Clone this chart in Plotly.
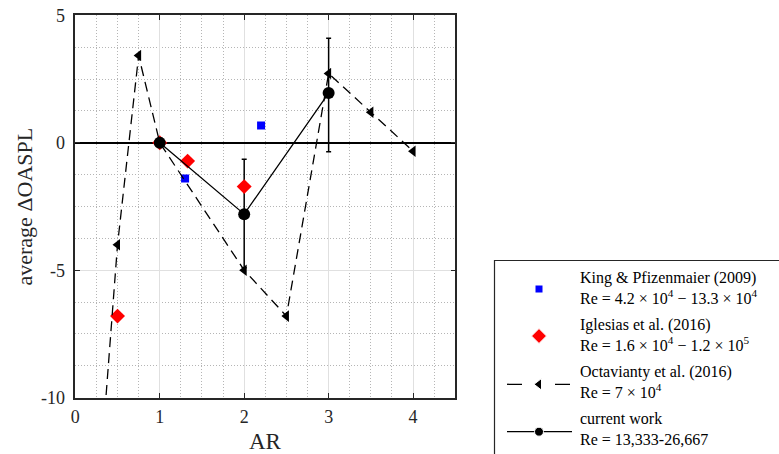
import plotly.graph_objects as go

# ---------------- data ----------------
king_ar = [1.3, 2.2]
king_val = [-1.4, 0.68]

igl_ar = [0.5, 1.0, 1.33, 2.0]
igl_val = [-6.8, 0.0, -0.72, -1.72]

oct_ar = [0.25, 0.5, 0.75, 1.0, 2.0, 2.5, 3.0, 3.5, 4.0]
oct_val = [-14.9, -4.0, 3.42, 0.0, -5.0, -6.8, 2.72, 1.2, -0.33]

cur_ar = [1.0, 2.0, 3.0]
cur_val = [0.0, -2.8, 1.95]
cur_err_plus = [0.0, 2.15, 2.15]
cur_err_minus = [0.0, 2.1, 2.3]

x_ticks = [0, 1, 2, 3, 4]
x_ticklabels = ["0", "1", "2", "3", "4"]
y_ticks = [-10, -5, 0, 5]
y_ticklabels = ["-10", "-5", "0", "5"]

legend_names = [
    ("King &amp; Pfizenmaier (2009)", "Re = 4.2 × 10<sup>4</sup> − 13.3 × 10<sup>4</sup>"),
    ("Iglesias et al. (2016)", "Re = 1.6 × 10<sup>4</sup> − 1.2 × 10<sup>5</sup>"),
    ("Octavianty et al. (2016)", "Re = 7 × 10<sup>4</sup>"),
    ("current work", "Re = 13,333-26,667"),
]

# ---------------- layout geometry (pixels) ----------------
W, H = 779, 454
PL, PR, PT, PB = 75.3, 455.3, 15.3, 397.7
FONT = "Liberation Serif, Times New Roman, serif"
DARK = "#262626"

def px(x):
    return x / W

def py(y):
    return (H - y) / H

fig = go.Figure()

# error bars of current work (drawn first, underneath)
fig.add_trace(go.Scatter(
    x=cur_ar, y=cur_val, mode="markers",
    marker=dict(size=1, color="rgba(0,0,0,0)"),
    error_y=dict(type="data", symmetric=False, array=cur_err_plus,
                 arrayminus=cur_err_minus, color="black", thickness=1.5, width=2.5),
    showlegend=False, hoverinfo="skip"))

fig.add_trace(go.Scatter(
    x=king_ar, y=king_val, mode="markers",
    marker=dict(symbol="square", size=8, color="#0000ff"),
    showlegend=False))

fig.add_trace(go.Scatter(
    x=igl_ar, y=igl_val, mode="markers",
    marker=dict(symbol="diamond", size=11.5, color="#ff0000"),
    showlegend=False))

fig.add_trace(go.Scatter(
    x=oct_ar, y=oct_val, mode="lines+markers",
    line=dict(color="black", width=1.3, dash="10px,6px"),
    marker=dict(symbol="triangle-left", size=10, color="black"),
    showlegend=False))

fig.add_trace(go.Scatter(
    x=cur_ar, y=cur_val, mode="lines+markers",
    line=dict(color="black", width=1.3),
    marker=dict(symbol="circle", size=12, color="black"),
    showlegend=False))

# ---------------- legend (manual, pixel overlay axes) ----------------
leg_x0, leg_x1 = 507, 572
leg_mx = 539
leg_rows = [289, 336, 384.3, 431.7]
leg_text_x = 578
leg_text_centers = [287.5, 334.5, 382, 428.5]

fig.add_trace(go.Scatter(
    x=[leg_x0, leg_x1], y=[leg_rows[2]] * 2, xaxis="x2", yaxis="y2", mode="lines",
    line=dict(color="black", width=1.3, dash="15px,33px"),
    showlegend=False, hoverinfo="skip", cliponaxis=False))
fig.add_trace(go.Scatter(
    x=[leg_x0, leg_x1], y=[leg_rows[3]] * 2, xaxis="x2", yaxis="y2", mode="lines",
    line=dict(color="black", width=1.3),
    showlegend=False, hoverinfo="skip", cliponaxis=False))
fig.add_trace(go.Scatter(
    x=[leg_mx] * 4, y=leg_rows, xaxis="x2", yaxis="y2", mode="markers",
    marker=dict(symbol=["square", "diamond", "triangle-left", "circle"],
                size=[8, 11.5, 10, 9],
                color=["#0000ff", "#ff0000", "black", "black"], opacity=1),
    showlegend=False, hoverinfo="skip", cliponaxis=False))

annotations = []
for (l1, l2), yy in zip(legend_names, leg_text_centers):
    annotations.append(dict(
        text=l1 + "<br>" + l2, x=px(leg_text_x), y=py(yy), xref="paper", yref="paper",
        xanchor="left", yanchor="middle", align="left", showarrow=False,
        font=dict(family=FONT, size=16, color="black")))

annotations.append(dict(
    text="average ΔOASPL", x=px(24), y=py((PT + PB) / 2), xref="paper", yref="paper",
    textangle=-90, showarrow=False, xanchor="center", yanchor="middle",
    font=dict(family=FONT, size=22, color=DARK)))
annotations.append(dict(
    text="AR", x=px((PL + PR) / 2), y=py(441), xref="paper", yref="paper",
    showarrow=False, xanchor="center", yanchor="middle",
    font=dict(family=FONT, size=23, color=DARK)))

shapes = [dict(type="rect", xref="paper", yref="paper",
               x0=px(494.5), x1=px(820), y0=py(260.5), y1=py(520),
               line=dict(color=DARK, width=1.2), fillcolor="rgba(0,0,0,0)", layer="above")]

axis_common = dict(
    showline=True, linecolor=DARK, linewidth=1.5, mirror="ticks",
    ticks="inside", ticklen=5, tickwidth=1, tickcolor=DARK,
    tickfont=dict(family=FONT, size=18, color=DARK),
    showgrid=True, gridcolor="#e0e0e0", gridwidth=1, automargin=False,
)

fig.update_layout(
    width=W, height=H, autosize=False,
    margin=dict(l=0, r=0, t=0, b=0, pad=0),
    paper_bgcolor="white", plot_bgcolor="rgba(0,0,0,0)",
    showlegend=False,
    xaxis=dict(domain=[px(PL), px(PR)], range=[0, 4.5],
               tickmode="array", tickvals=x_ticks, ticktext=x_ticklabels,
               zeroline=False, ticklabelstandoff=2,
               minor=dict(tickmode="linear", tick0=0, dtick=0.25, showgrid=True,
                          gridcolor="#b5b5b5", griddash="1px,2px", gridwidth=1),
               **axis_common),
    yaxis=dict(domain=[py(PB), py(PT)], range=[-10, 5],
               tickmode="array", tickvals=y_ticks, ticktext=y_ticklabels,
               zeroline=True, zerolinecolor="black", zerolinewidth=1.5,
               ticklabelstandoff=5,
               minor=dict(tickmode="linear", tick0=0, dtick=1.25, showgrid=True,
                          gridcolor="#b5b5b5", griddash="1px,2px", gridwidth=1),
               **axis_common),
    xaxis2=dict(domain=[0, 1], range=[0, W], visible=False, anchor="y2", automargin=False),
    yaxis2=dict(domain=[0, 1], range=[H, 0], visible=False, anchor="x2", automargin=False),
    annotations=annotations,
    shapes=shapes,
)

fig.write_html("out.html")
